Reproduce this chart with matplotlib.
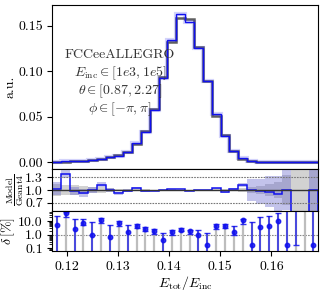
import numpy as np
import matplotlib
matplotlib.use("Agg")
import matplotlib.pyplot as plt
from matplotlib.ticker import FixedLocator, FixedFormatter, LogLocator, NullFormatter

plt.rcParams.update({
    "font.family": "serif",
    "font.serif": ["cmr10", "DejaVu Serif"],
    "mathtext.fontset": "cm",
    "axes.unicode_minus": False,
    "axes.formatter.use_mathtext": True,
    "font.size": 10,
    "xtick.direction": "out",
    "ytick.direction": "out",
})

# ---------------- data ----------------
bin_lo, bin_hi, n_bins = 0.11724, 0.16907, 30
geant4 = [0.0003, 0.0005, 0.0008, 0.0011, 0.0022, 0.0033, 0.0055, 0.0077, 0.0114, 0.0199,
          0.0340, 0.0588, 0.0934, 0.1325, 0.1590, 0.1575, 0.1265, 0.0893, 0.0510, 0.0295,
          0.0125, 0.0038, 0.0011, 0.0005, 0.0003, 0.0002, 0.0001, 0.00005, 0.00003, 0.00002]
ratio = [1.03, 1.38, 0.974, 0.923, 0.99, 1.12, 0.994, 0.923, 0.983, 1.044,
         0.972, 0.982, 0.996, 1.015, 1.023, 0.982, 0.99, 1.0, 1.044, 0.956,
         1.015, 1.115, 0.998, 0.965, 0.954, 0.903, 1.0, 0.0, 0.0, 1.0]
geant4_relerr = [0.15, 0.13, 0.11, 0.09, 0.07, 0.06, 0.045, 0.035, 0.03, 0.02,
                 0.015, 0.012, 0.01, 0.008, 0.008, 0.008, 0.01, 0.012, 0.015, 0.02,
                 0.03, 0.045, 0.07, 0.10, 0.14, 0.20, 0.35, 1.0, 1.0, 0.6]
model_relerr = [0.15, 0.10, 0.10, 0.09, 0.07, 0.06, 0.045, 0.035, 0.03, 0.02,
                0.015, 0.012, 0.01, 0.008, 0.008, 0.008, 0.01, 0.012, 0.015, 0.02,
                0.03, 0.045, 0.26, 0.30, 0.37, 0.42, 0.48, 0.0, 0.0, 1.0]
delta = [5.2, 38, 2.6, 7.7, 1.0, 12.2, 0.63, 7.7, 1.7, 4.4,
         2.8, 1.76, 0.38, 1.5, 2.3, 1.76, 1.0, 0.18, 4.4, 4.4,
         1.5, 11.5, 0.18, 3.5, 4.6, 9.7, 0.18, 100, 100, 0.18]
delta_upper = [22.8, 45, 14.5, 15, 8.2, 17.2, 5.2, 10.9, 5.0, 5.8,
               3.7, 2.5, 1.4, 2.1, 3.3, 2.3, 2.1, 1.34, 5.8, 5.8,
               4.4, 15.3, 8.7, 19.2, 25.6, 38, 200, 100, 100, 200]
delta_lower = [0, 19.2, 0, 4.9, 0, 7.7, 0, 4.6, 0, 3.1,
               2.0, 1.19, 0, 0.89, 1.76, 1.19, 0, 0, 2.8, 3.1,
               0.95, 6.5, 0, 0, 0, 0, 0, 0.18, 80, 0]
info_lines = ["FCCeeALLEGRO", r"$E_{\rm inc}\in[1e3,1e5]$",
              r"$\theta\in[0.87,2.27]$", r"$\phi\in[-\pi,\pi]$"]

# ---------------- derived ----------------
edges = np.linspace(bin_lo, bin_hi, n_bins + 1)
centers = 0.5 * (edges[:-1] + edges[1:])
geant4 = np.array(geant4)
ratio = np.array(ratio)
model = geant4 * ratio
g4e = np.array(geant4_relerr)
me = np.array(model_relerr)
delta = np.array(delta)
d_up = np.array(delta_upper) - delta
d_dn = delta - np.maximum(np.array(delta_lower), 1e-4)

BLUE = "#1010ee"

fig = plt.figure(figsize=(3.24, 2.92), dpi=100)
L, W = 0.162, 0.819
ax1 = fig.add_axes([L, 0.4212, W, 0.5618])
ax2 = fig.add_axes([L, 0.2774, W, 0.1438], sharex=ax1)
ax3 = fig.add_axes([L, 0.1404, W, 0.1370], sharex=ax1)

# main panel
ax1.stairs(geant4, edges, color="#444444", lw=1.8, alpha=0.85)
ax1.stairs(model, edges, color=BLUE, lw=3.0, alpha=0.18)
ax1.stairs(model, edges, color=BLUE, lw=1.0)
ax1.set_ylim(-0.0077, 0.173)
ax1.set_yticks([0.0, 0.05, 0.10, 0.15])
ax1.set_yticklabels(["0.00", "0.05", "0.10", "0.15"])
ax1.set_ylabel("a.u.")
ax1.yaxis.set_label_coords(-0.136, 0.5)
ax1.tick_params(labelbottom=False)
ys = [0.695, 0.584, 0.477, 0.364]
for t, y in zip(info_lines, ys):
    ax1.text(0.254, y, t, transform=ax1.transAxes, ha="center", va="center",
             color="#333333", fontsize=10)

# ratio panel
ax2.stairs(1 + g4e, edges, baseline=1 - g4e, fill=True, color="#c4c4c4", alpha=0.75, lw=0)
ax2.stairs(ratio + me, edges, baseline=ratio - me, fill=True, color="#5555c8", alpha=0.35, lw=0)
ax2.axhline(1.0, color="#333333", lw=1.0)
for v in (0.7, 1.3):
    ax2.axhline(v, color="#777777", lw=0.8, ls=(0, (1.5, 1.0)))
ax2.stairs(ratio, edges, color=BLUE, lw=1.1)
ax2.set_ylim(0.5, 1.5)
ax2.yaxis.set_major_locator(FixedLocator([0.7, 1.0, 1.3]))
ax2.yaxis.set_major_formatter(FixedFormatter(["0.7", "1.0", "1.3"]))
ax2.set_ylabel(r"$\frac{\rm Model}{\rm Geant4}$", fontsize=10)
ax2.yaxis.set_label_coords(-0.098, 0.5)
ax2.tick_params(labelbottom=False)

# delta panel
ax3.set_yscale("log")
ax3.axhline(1.0, color="#888888", lw=0.8, ls=(0, (1.5, 1.0)))
ax3.vlines(centers, 1e-3, delta + d_up, color="#bdbdbd", lw=1.6)
ax3.errorbar(centers, delta, yerr=[d_dn, d_up], fmt="o", ms=3.2, color=BLUE,
             ecolor=BLUE, elinewidth=1.1, capsize=2.0, capthick=1.0, alpha=0.85)
ax3.set_ylim(0.063, 55)
ax3.yaxis.set_major_locator(FixedLocator([0.1, 1.0, 10.0]))
ax3.yaxis.set_major_formatter(FixedFormatter(["0.1", "1.0", "10.0"]))
ax3.yaxis.set_minor_locator(LogLocator(base=10, subs=np.arange(2, 10)))
ax3.yaxis.set_minor_formatter(NullFormatter())
ax3.set_ylabel(r"$\delta\,[\%]$")
ax3.yaxis.set_label_coords(-0.132, 0.5)
ax3.set_xlim(bin_lo, bin_hi)
ax3.set_xticks([0.12, 0.13, 0.14, 0.15, 0.16])
ax3.set_xticklabels(["0.12", "0.13", "0.14", "0.15", "0.16"])
ax3.set_xlabel(r"$E_{\rm tot}/E_{\rm inc}$", labelpad=1)

fig.savefig("out.png", dpi=100)
